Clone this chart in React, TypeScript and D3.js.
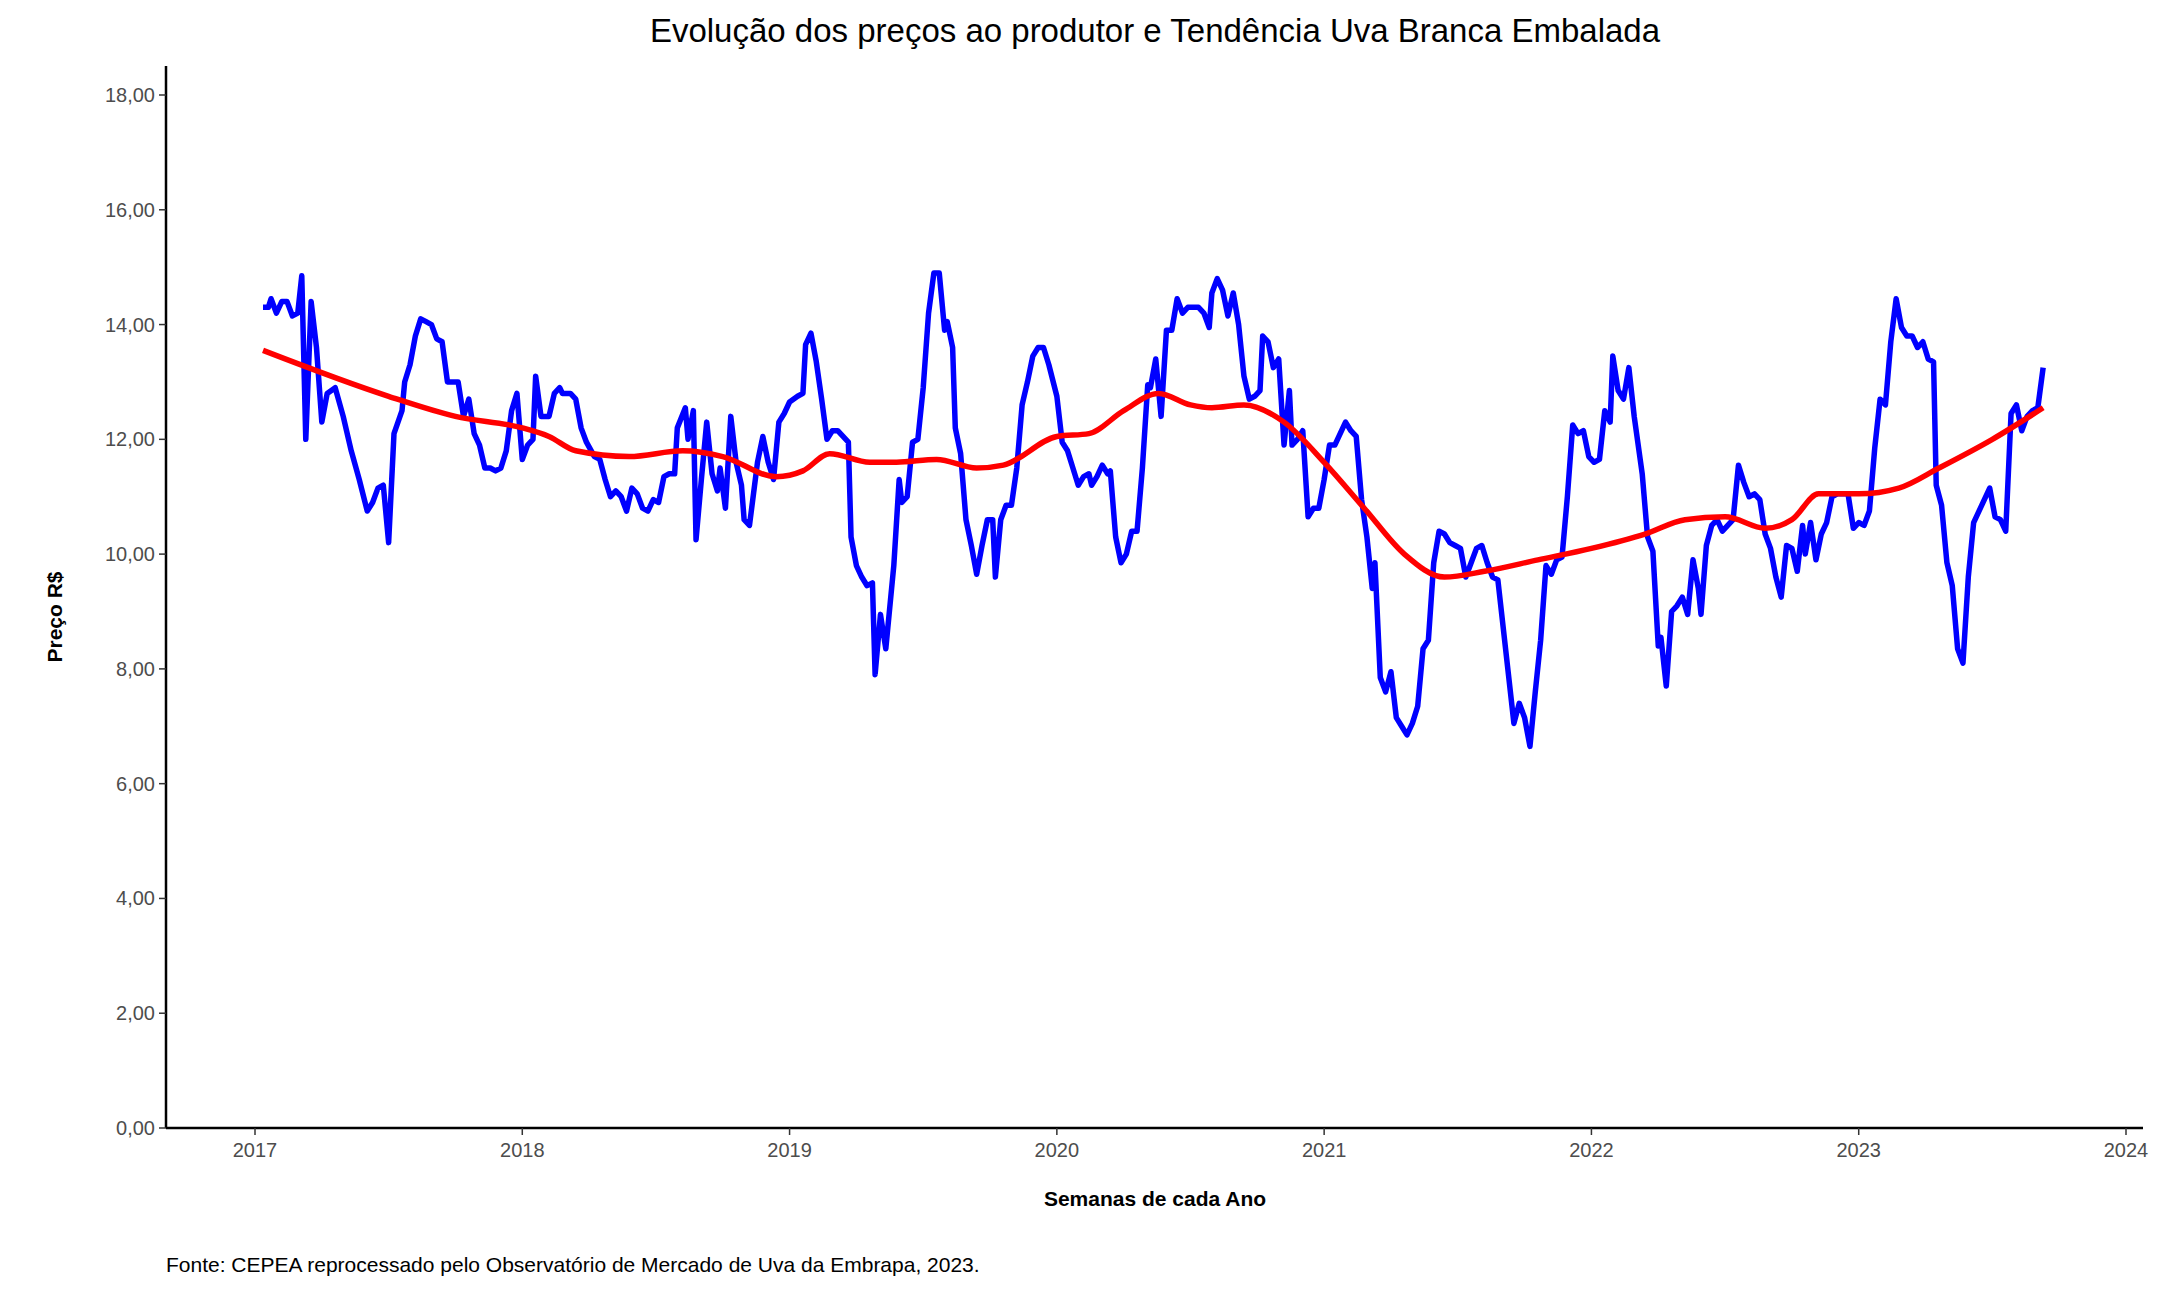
import React, { useEffect, useRef } from 'react';
import * as d3 from 'd3';

// Blue: weekly producer price (decimal year, R$)
const priceYears = [
  2017.03, 2017.05, 2017.06, 2017.08, 2017.10, 2017.12, 2017.14, 2017.16, 2017.175, 2017.19, 2017.21, 2017.23, 2017.25, 2017.27, 2017.30, 2017.33, 2017.36, 2017.39, 2017.42, 2017.44, 2017.46, 2017.48, 2017.50, 2017.52, 2017.55, 2017.56, 2017.58, 2017.60, 2017.62, 2017.64, 2017.66, 2017.68, 2017.70, 2017.72, 2017.76, 2017.78, 2017.80, 2017.82, 2017.84, 2017.86, 2017.88, 2017.90, 2017.92, 2017.94, 2017.96, 2017.98,
  2018.00, 2018.02, 2018.04, 2018.05, 2018.07, 2018.10, 2018.12, 2018.14, 2018.15, 2018.18, 2018.20, 2018.22, 2018.24, 2018.27, 2018.29, 2018.31, 2018.33, 2018.35, 2018.37, 2018.39, 2018.41, 2018.43, 2018.45, 2018.47, 2018.49, 2018.51, 2018.53, 2018.55, 2018.57, 2018.58, 2018.61, 2018.62, 2018.64, 2018.65, 2018.67, 2018.69, 2018.71, 2018.73, 2018.74, 2018.76, 2018.78, 2018.80, 2018.82, 2018.83, 2018.85, 2018.88, 2018.90, 2018.92, 2018.94, 2018.96, 2018.98,
  2019.00, 2019.03, 2019.05, 2019.06, 2019.08, 2019.10, 2019.12, 2019.14, 2019.16, 2019.18, 2019.20, 2019.22, 2019.23, 2019.25, 2019.27, 2019.29, 2019.31, 2019.32, 2019.34, 2019.36, 2019.39, 2019.41, 2019.42, 2019.44, 2019.46, 2019.48, 2019.50, 2019.52, 2019.54, 2019.56, 2019.58, 2019.59, 2019.61, 2019.62, 2019.64, 2019.66, 2019.68, 2019.70, 2019.72, 2019.74, 2019.76, 2019.77, 2019.79, 2019.81, 2019.83, 2019.85, 2019.87, 2019.89, 2019.91, 2019.93, 2019.95, 2019.97,
  2020.00, 2020.02, 2020.04, 2020.06, 2020.08, 2020.10, 2020.12, 2020.13, 2020.15, 2020.17, 2020.19, 2020.20, 2020.22, 2020.24, 2020.26, 2020.28, 2020.30, 2020.32, 2020.34, 2020.35, 2020.37, 2020.39, 2020.41, 2020.43, 2020.45, 2020.47, 2020.49, 2020.53, 2020.55, 2020.57, 2020.58, 2020.60, 2020.62, 2020.64, 2020.66, 2020.68, 2020.70, 2020.72, 2020.74, 2020.76, 2020.77, 2020.79, 2020.81, 2020.83, 2020.85, 2020.87, 2020.88, 2020.90, 2020.92, 2020.94, 2020.96, 2020.98,
  2021.00, 2021.02, 2021.04, 2021.06, 2021.08, 2021.10, 2021.12, 2021.14, 2021.16, 2021.18, 2021.19, 2021.21, 2021.23, 2021.25, 2021.27, 2021.29, 2021.31, 2021.33, 2021.35, 2021.37, 2021.39, 2021.41, 2021.43, 2021.45, 2021.47, 2021.49, 2021.51, 2021.53, 2021.55, 2021.57, 2021.59, 2021.61, 2021.63, 2021.65, 2021.71, 2021.73, 2021.75, 2021.77, 2021.79, 2021.81, 2021.83, 2021.85, 2021.87, 2021.89, 2021.91, 2021.93, 2021.95, 2021.97, 2021.99,
  2022.01, 2022.03, 2022.05, 2022.07, 2022.08, 2022.10, 2022.12, 2022.14, 2022.16, 2022.19, 2022.21, 2022.23, 2022.25, 2022.26, 2022.28, 2022.30, 2022.32, 2022.34, 2022.36, 2022.38, 2022.40, 2022.41, 2022.43, 2022.45, 2022.47, 2022.49, 2022.51, 2022.53, 2022.55, 2022.57, 2022.59, 2022.61, 2022.63, 2022.65, 2022.67, 2022.69, 2022.71, 2022.73, 2022.75, 2022.77, 2022.79, 2022.80, 2022.82, 2022.84, 2022.86, 2022.88, 2022.90, 2022.92, 2022.94, 2022.96, 2022.98,
  2023.00, 2023.02, 2023.04, 2023.06, 2023.08, 2023.10, 2023.12, 2023.14, 2023.16, 2023.18, 2023.20, 2023.22, 2023.24, 2023.26, 2023.28, 2023.29, 2023.31, 2023.33, 2023.35, 2023.37, 2023.39, 2023.41, 2023.43, 2023.45, 2023.47, 2023.49, 2023.51, 2023.53, 2023.55, 2023.57, 2023.59, 2023.61, 2023.63, 2023.65, 2023.67, 2023.69,
];
const priceValues = [
  14.3, 14.3, 14.45, 14.2, 14.4, 14.4, 14.15, 14.2, 14.85, 12.0, 14.4, 13.6, 12.3, 12.8, 12.9, 12.4, 11.8, 11.3, 10.75, 10.9, 11.15, 11.2, 10.2, 12.1, 12.5, 13.0, 13.3, 13.8, 14.1, 14.05, 14.0, 13.75, 13.7, 13.0, 13.0, 12.4, 12.7, 12.1, 11.9, 11.5, 11.5, 11.45, 11.5, 11.8, 12.5, 12.8,
  11.65, 11.9, 12.0, 13.1, 12.4, 12.4, 12.8, 12.9, 12.8, 12.8, 12.7, 12.2, 11.95, 11.7, 11.65, 11.3, 11.0, 11.1, 11.0, 10.75, 11.15, 11.05, 10.8, 10.75, 10.95, 10.9, 11.35, 11.4, 11.4, 12.2, 12.55, 12.0, 12.5, 10.25, 11.3, 12.3, 11.4, 11.1, 11.5, 10.8, 12.4, 11.6, 11.2, 10.6, 10.5, 11.6, 12.05, 11.6, 11.3, 12.3, 12.45,
  12.65, 12.75, 12.8, 13.65, 13.85, 13.35, 12.7, 12.0, 12.15, 12.15, 12.05, 11.95, 10.3, 9.8, 9.6, 9.45, 9.5, 7.9, 8.95, 8.35, 9.8, 11.3, 10.9, 11.0, 11.95, 12.0, 12.9, 14.2, 14.9, 14.9, 13.9, 14.05, 13.6, 12.2, 11.75, 10.6, 10.15, 9.65, 10.15, 10.6, 10.6, 9.6, 10.6, 10.85, 10.85, 11.5, 12.6, 13.0, 13.45, 13.6, 13.6, 13.3,
  12.75, 11.95, 11.8, 11.5, 11.2, 11.35, 11.4, 11.2, 11.35, 11.55, 11.4, 11.45, 10.3, 9.85, 10.0, 10.4, 10.4, 11.5, 12.95, 12.9, 13.4, 12.4, 13.9, 13.9, 14.45, 14.2, 14.3, 14.3, 14.2, 13.95, 14.55, 14.8, 14.6, 14.15, 14.55, 14.0, 13.1, 12.7, 12.75, 12.85, 13.8, 13.7, 13.25, 13.4, 11.9, 12.85, 11.9, 12.0, 12.15, 10.65, 10.8, 10.8,
  11.3, 11.9, 11.9, 12.1, 12.3, 12.15, 12.05, 10.95, 10.3, 9.4, 9.85, 7.85, 7.6, 7.95, 7.15, 7.0, 6.85, 7.05, 7.35, 8.35, 8.5, 9.85, 10.4, 10.35, 10.2, 10.15, 10.1, 9.6, 9.85, 10.1, 10.15, 9.85, 9.6, 9.55, 7.05, 7.4, 7.15, 6.65, 7.6, 8.5, 9.8, 9.65, 9.9, 9.95, 11.0, 12.25, 12.1, 12.15, 11.7,
  11.6, 11.65, 12.5, 12.3, 13.45, 12.85, 12.7, 13.25, 12.4, 11.4, 10.3, 10.05, 8.4, 8.55, 7.7, 9.0, 9.1, 9.25, 8.95, 9.9, 9.4, 8.95, 10.15, 10.5, 10.6, 10.4, 10.5, 10.6, 11.55, 11.25, 11.0, 11.05, 10.95, 10.35, 10.1, 9.6, 9.25, 10.15, 10.1, 9.7, 10.5, 10.0, 10.55, 9.9, 10.35, 10.55, 11.0, 11.05, 11.05, 11.05, 10.45,
  10.55, 10.5, 10.75, 11.85, 12.7, 12.6, 13.7, 14.45, 13.95, 13.8, 13.8, 13.6, 13.7, 13.4, 13.35, 11.2, 10.85, 9.85, 9.45, 8.35, 8.1, 9.6, 10.55, 10.75, 10.95, 11.15, 10.65, 10.6, 10.4, 12.45, 12.6, 12.15, 12.4, 12.5, 12.55, 13.25,
];

// Red: smoothed trend
const trendYears = [2017.03, 2017.5, 2017.75, 2018.0, 2018.1, 2018.2, 2018.4, 2018.6, 2018.75, 2018.95, 2019.05, 2019.15, 2019.3, 2019.4, 2019.55, 2019.7, 2019.8, 2020.0, 2020.12, 2020.25, 2020.38, 2020.5, 2020.58, 2020.7, 2020.85, 2021.0, 2021.15, 2021.3, 2021.45, 2021.6, 2021.8, 2022.0, 2022.2, 2022.35, 2022.5, 2022.65, 2022.75, 2022.85, 2022.92, 2023.0, 2023.15, 2023.3, 2023.5, 2023.69];
const trendValues = [13.55, 12.75, 12.4, 12.2, 12.05, 11.8, 11.7, 11.8, 11.7, 11.35, 11.45, 11.75, 11.6, 11.6, 11.65, 11.5, 11.55, 12.05, 12.1, 12.5, 12.8, 12.6, 12.55, 12.6, 12.3, 11.6, 10.8, 10.0, 9.6, 9.7, 9.9, 10.1, 10.35, 10.6, 10.65, 10.45, 10.6, 11.05, 11.05, 11.05, 11.15, 11.5, 12.0, 12.55];

const yearTicks = [2017, 2018, 2019, 2020, 2021, 2022, 2023, 2024];
const priceTicks = [0, 2, 4, 6, 8, 10, 12, 14, 16, 18];

const W = 2160;
const H = 1296;
const FONT = '"Liberation Sans", Arial, sans-serif';

export default function App() {
  const ref = useRef<SVGSVGElement>(null);

  useEffect(() => {
    if (!ref.current) return;
    const svg = d3.select(ref.current);
    svg.selectAll('*').remove();

    const left = 166, right = 2143, top = 66, bottom = 1128;
    const x = d3.scaleLinear().domain([2017, 2024]).range([255, 2126]);
    const y = d3.scaleLinear().domain([0, 18]).range([bottom, 95]);

    // Axes lines
    svg.append('line').attr('x1', left).attr('x2', left).attr('y1', top).attr('y2', bottom)
      .attr('stroke', '#000').attr('stroke-width', 2.5);
    svg.append('line').attr('x1', left).attr('x2', right).attr('y1', bottom).attr('y2', bottom)
      .attr('stroke', '#000').attr('stroke-width', 2.5);

    const fmt = (v: number) => v.toFixed(2).replace('.', ',');

    priceTicks.forEach(t => {
      svg.append('line').attr('x1', left - 7).attr('x2', left).attr('y1', y(t)).attr('y2', y(t))
        .attr('stroke', '#333').attr('stroke-width', 1.5);
      svg.append('text').attr('x', left - 11).attr('y', y(t)).attr('dy', '0.35em')
        .attr('text-anchor', 'end').attr('font-size', 20).attr('fill', '#4d4d4d')
        .attr('font-family', FONT).text(fmt(t));
    });

    yearTicks.forEach(t => {
      svg.append('line').attr('x1', x(t)).attr('x2', x(t)).attr('y1', bottom).attr('y2', bottom + 7)
        .attr('stroke', '#333').attr('stroke-width', 1.5);
      svg.append('text').attr('x', x(t)).attr('y', bottom + 29)
        .attr('text-anchor', 'middle').attr('font-size', 20).attr('fill', '#4d4d4d')
        .attr('font-family', FONT).text(String(t));
    });

    const price = priceYears.map((d, i) => [d, priceValues[i]] as [number, number]);
    const trend = trendYears.map((d, i) => [d, trendValues[i]] as [number, number]);

    svg.append('path').datum(price)
      .attr('fill', 'none').attr('stroke', '#0000ff').attr('stroke-width', 5.5)
      .attr('stroke-linejoin', 'round')
      .attr('d', d3.line<[number, number]>().x(d => x(d[0])).y(d => y(d[1])));

    svg.append('path').datum(trend)
      .attr('fill', 'none').attr('stroke', '#ff0000').attr('stroke-width', 5.5)
      .attr('d', d3.line<[number, number]>().x(d => x(d[0])).y(d => y(d[1])).curve(d3.curveMonotoneX));

    svg.append('text').attr('x', 1155).attr('y', 42).attr('text-anchor', 'middle')
      .attr('font-size', 33).attr('font-family', FONT).attr('fill', '#000')
      .text('Evolução dos preços ao produtor e Tendência Uva Branca Embalada');

    svg.append('text').attr('x', 1155).attr('y', 1206).attr('text-anchor', 'middle')
      .attr('font-size', 21).attr('font-weight', 'bold').attr('font-family', FONT)
      .text('Semanas de cada Ano');

    svg.append('text').attr('transform', `translate(62, ${(top + bottom) / 2 + 20}) rotate(-90)`)
      .attr('text-anchor', 'middle').attr('font-size', 21).attr('font-weight', 'bold')
      .attr('font-family', FONT).text('Preço R$');

    svg.append('text').attr('x', 166).attr('y', 1272).attr('font-size', 21)
      .attr('font-family', FONT)
      .text('Fonte: CEPEA reprocessado pelo Observatório de Mercado de Uva da Embrapa, 2023.');
  }, []);

  return (
    <svg ref={ref} width={W} height={H}
      style={{ position: 'absolute', left: 0, top: 0, background: '#fff' }} />
  );
}
